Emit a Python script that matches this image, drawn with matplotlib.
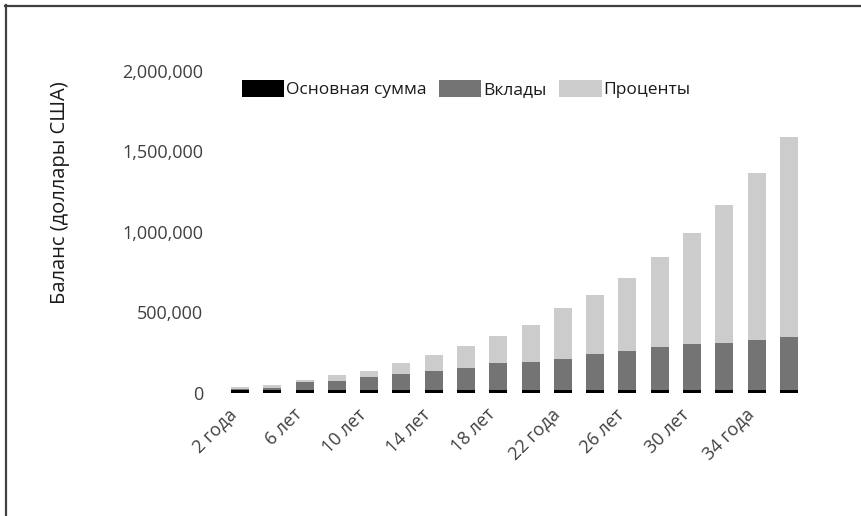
import matplotlib
matplotlib.use("Agg")
import matplotlib.pyplot as plt
import matplotlib.transforms as mtransforms
from matplotlib.lines import Line2D
import numpy as np

plt.rcParams["font.family"] = ["Open Sans", "DejaVu Sans"]

YEAR_LABELS = [
    "2 года", "4 года", "6 лет", "8 лет", "10 лет", "12 лет", "14 лет", "16 лет",
    "18 лет", "20 лет", "22 года", "24 года", "26 лет", "28 лет", "30 лет",
    "32 года", "34 года", "36 лет",
]
PRINCIPAL = [20000] * 18
DEPOSITS = [5000, 13000, 46000, 55000, 79000, 96000, 117000, 135000, 166000,
            173000, 189000, 220000, 241000, 266000, 284000, 291000, 307000, 326000]
INTEREST = [10000, 15000, 15000, 35000, 38000, 70000, 97000, 135000, 166000,
            227000, 317000, 367000, 451000, 557000, 688000, 855000, 1037000, 1244000]
SERIES_NAMES = ["Основная сумма", "Вклады", "Проценты"]
SERIES_COLORS = ["#000000", "#747474", "#cccccc"]
Y_TICKS = [0, 500000, 1000000, 1500000, 2000000]

TEXT_COLOR = "#404040"

fig = plt.figure(figsize=(8.61, 5.16), dpi=100)
ax = fig.add_axes([0.260, 0.2384, 0.675, 0.624])

x = np.arange(len(YEAR_LABELS))
bottom = np.zeros(len(x))
for values, name, color in zip([PRINCIPAL, DEPOSITS, INTEREST], SERIES_NAMES, SERIES_COLORS):
    ax.bar(x, values, width=0.56, bottom=bottom, color=color, label=name, linewidth=0)
    bottom += np.array(values)

ax.set_xlim(-0.5, len(x) - 0.5)
ax.set_ylim(0, 2000000)
ax.set_yticks(Y_TICKS)
ax.set_yticklabels([f"{v:,}" for v in Y_TICKS])
ax.tick_params(axis="y", length=0, pad=15, labelsize=13, labelcolor=TEXT_COLOR)

shown = x[::2]
ax.set_xticks(shown)
ax.set_xticklabels([YEAR_LABELS[i] for i in shown])
ax.tick_params(axis="x", length=0, pad=9, labelsize=13, labelcolor=TEXT_COLOR)
offset = mtransforms.ScaledTranslation(-12 / 100, 0, fig.dpi_scale_trans)
for label in ax.get_xticklabels():
    label.set_rotation(45)
    label.set_ha("right")
    label.set_va("top")
    label.set_rotation_mode("anchor")
    label.set_transform(label.get_transform() + offset)

for spine in ax.spines.values():
    spine.set_visible(False)

fig.text(60 / 861, 1 - 193 / 516, "Баланс (доллары США)", rotation=90,
         ha="center", va="center", fontsize=14.5, color="#1a1a1a")

ax.legend(
    loc="center left",
    bbox_to_anchor=(233 / 861, 1 - 89 / 516),
    bbox_transform=fig.transFigure,
    ncol=3,
    frameon=False,
    fontsize=12.5,
    handlelength=2.45,
    handleheight=1.1,
    handletextpad=0.12,
    columnspacing=0.7,
    borderpad=0,
    labelcolor="#1a1a1a",
)

# outer frame on top and left, as in the source image
fig.add_artist(Line2D([5 / 861, 1], [1 - 5.5 / 516, 1 - 5.5 / 516],
                      transform=fig.transFigure, color="#404040", linewidth=1.6))
fig.add_artist(Line2D([5.5 / 861, 5.5 / 861], [0, 1 - 5 / 516],
                      transform=fig.transFigure, color="#404040", linewidth=1.6))

fig.savefig("out.png", dpi=100)
